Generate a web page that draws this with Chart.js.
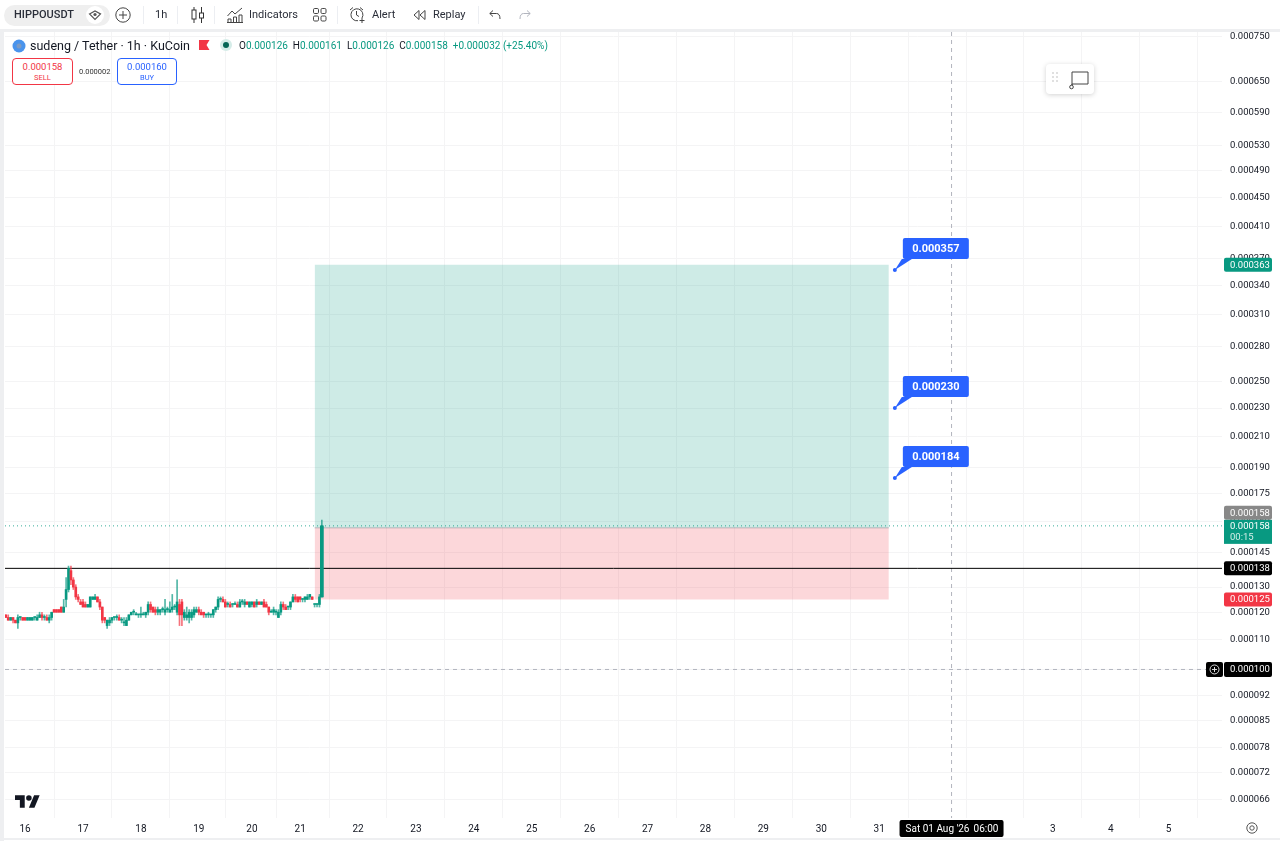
<!DOCTYPE html>
<html>
<head>
<meta charset="utf-8">
<title>HIPPOUSDT</title>
<script src="https://cdn.jsdelivr.net/npm/chart.js@4"></script>
<style>
html, body { margin: 0; padding: 0; background: #fff; width: 1280px; height: 841px; overflow: hidden; font-family: Roboto, sans-serif; color: #131722; }
#chart { position: absolute; left: 0; top: 0; }
.abs { position: absolute; white-space: nowrap; }
.tb { font-size: 11px; top: 8px; line-height: 14px; color: #2a2e39; }
.sep { position: absolute; top: 6px; width: 1px; height: 18px; background: #eceef2; }
svg { position: absolute; overflow: visible; }
#frameTop { position: absolute; left: 0; top: 29px; width: 1280px; height: 3px; background: #eeeff1; }
#frameLeft { position: absolute; left: 0; top: 29px; width: 4px; height: 812px; background: #eeeff1; }
#frameBottom { position: absolute; left: 0; top: 838px; width: 1280px; height: 2px; background: #eeeff1; }
.num { color: #089981; }
.box { position: absolute; top: 58px; width: 59px; height: 25px; border: 1px solid; border-radius: 4px; background: #fff; text-align: center; }
.box div:first-child { font-size: 9.5px; line-height: 12px; margin-top: 2px; }
.box div:last-child { font-size: 7.5px; line-height: 9px; }
</style>
</head>
<body>
<canvas id="chart" width="1280" height="841"></canvas>
<div id="frameTop"></div><div id="frameLeft"></div><div id="frameBottom"></div>

<div class="abs" style="left:4px;top:5px;width:106px;height:21px;background:#efefef;border-radius:11px"></div>
<div class="abs tb" style="left:14px;font-weight:500;font-size:11px">HIPPOUSDT</div>
<svg style="left:86px;top:6px" width="18" height="18" viewBox="0 0 18 18"><circle cx="9" cy="9" r="9" fill="#fff"/><path d="M3.5 8 L9 5 L14.5 8 L9 13.5 Z" fill="none" stroke="#555" stroke-width="1.2"/><circle cx="9" cy="8.5" r="1.6" fill="#555"/></svg>
<svg style="left:115px;top:7px" width="16" height="16" viewBox="0 0 16 16"><circle cx="8" cy="8" r="7.2" fill="none" stroke="#444" stroke-width="1"/><path d="M8 4v8M4 8h8" stroke="#444" stroke-width="1"/></svg>
<div class="sep" style="left:143px"></div>
<div class="abs tb" style="left:155px">1h</div>
<div class="sep" style="left:177px"></div>
<svg style="left:191px;top:7px" width="14" height="16" viewBox="0 0 14 16"><path d="M3 0v16M10.500 0v16" stroke="#333"/><rect x="1" y="3" width="4" height="9" fill="#fff" stroke="#333"/><rect x="8.500" y="6" width="4" height="5" fill="#fff" stroke="#333"/></svg>
<div class="sep" style="left:214px"></div>
<svg style="left:227px;top:7px" width="16" height="16" viewBox="0 0 16 16"><path d="M0.500 9 L5 4 L8 7 L15 1" fill="none" stroke="#444"/><path d="M1 16v-4h3v4M6.500 16v-6h3v6M12 16v-8h3v8M0 15.500h16" fill="none" stroke="#444"/></svg>
<div class="abs tb" style="left:249px">Indicators</div>
<svg style="left:313px;top:8px" width="14" height="14" viewBox="0 0 14 14"><rect x="0.500" y="0.500" width="5" height="5" rx="1.200" fill="none" stroke="#444"/><rect x="8" y="0.500" width="5" height="5" rx="1.200" fill="none" stroke="#444"/><rect x="0.500" y="8" width="5" height="5" rx="1.200" fill="none" stroke="#444"/><rect x="8" y="8" width="5" height="5" rx="1.200" fill="none" stroke="#444"/></svg>
<div class="sep" style="left:337px"></div>
<svg style="left:349px;top:7px" width="16" height="17" viewBox="0 0 16 17"><path d="M13 11 A6 6 0 1 0 9 13.700" fill="none" stroke="#444"/><path d="M7.500 4v4l2.500 1.500M1 3l3-2.500M14 3l-3-2.500M13 11v5M10.500 13.500h5" fill="none" stroke="#444"/></svg>
<div class="abs tb" style="left:372px">Alert</div>
<svg style="left:413px;top:10px" width="13" height="10" viewBox="0 0 13 10"><path d="M6 0.500 L1 5 L6 9.500 Z M12 0.500 L7 5 L12 9.500 Z" fill="none" stroke="#444"/></svg>
<div class="abs tb" style="left:433px">Replay</div>
<div class="sep" style="left:478px"></div>
<svg style="left:489px;top:10px" width="12" height="10" viewBox="0 0 12 10"><path d="M4 0.500 L0.800 3.500 L4 6.500 M0.800 3.500 H7.500 Q11 3.500 11 9" fill="none" stroke="#444"/></svg>
<svg style="left:519px;top:10px" width="12" height="10" viewBox="0 0 12 10"><path d="M8 0.500 L11.200 3.500 L8 6.500 M11.200 3.500 H4.500 Q1 3.500 1 9" fill="none" stroke="#b2b5be"/></svg>

<svg style="left:12px;top:39px" width="14" height="14" viewBox="0 0 14 14"><circle cx="7" cy="7" r="6.500" fill="#4a94ec"/><circle cx="7" cy="7" r="2.500" fill="#7d9bc4"/></svg>
<div class="abs" style="left:30px;top:38px;font-size:12.500px;line-height:15px">sudeng / Tether · 1h · KuCoin</div>
<svg style="left:199px;top:40px" width="11" height="10" viewBox="0 0 11 10"><path d="M0 0H10.500L7.500 5L10.500 10H0Z" fill="#f23645"/></svg>
<svg style="left:220px;top:39px" width="12" height="12" viewBox="0 0 12 12"><circle cx="6" cy="6" r="6" fill="#d5ecE8"/><circle cx="6" cy="6" r="3" fill="#056656"/></svg>
<div class="abs" style="left:239px;top:39px;font-size:10px;line-height:13px">O<span class="num">0.000126</span>&nbsp; H<span class="num">0.000161</span>&nbsp; L<span class="num">0.000126</span>&nbsp; C<span class="num">0.000158</span>&nbsp; <span class="num">+0.000032 (+25.40%)</span></div>
<div class="box" style="left:12px;border-color:#f23645;color:#f23645"><div>0.000158</div><div>SELL</div></div>
<div class="abs" style="left:79px;top:67px;font-size:7.500px;line-height:10px;color:#333">0.000002</div>
<div class="box" style="left:117px;width:58px;border-color:#2962ff;color:#2962ff"><div>0.000160</div><div>BUY</div></div>

<div class="abs" style="left:1046px;top:64px;width:48px;height:30px;background:#fff;border-radius:4px;box-shadow:0 1px 5px rgba(0,0,0,.18)"></div>
<svg style="left:1052px;top:70px" width="38" height="20" viewBox="0 0 38 20"><g fill="#d6d6d6"><circle cx="1" cy="3" r="1"/><circle cx="5" cy="3" r="1"/><circle cx="1" cy="7" r="1"/><circle cx="5" cy="7" r="1"/><circle cx="1" cy="11" r="1"/><circle cx="5" cy="11" r="1"/></g><path d="M20 2H36V14H20V17" fill="none" stroke="#444"/><path d="M20 2V15" stroke="#444"/><circle cx="19.500" cy="17" r="1.800" fill="#fff" stroke="#444"/></svg>

<svg style="left:15px;top:795px" width="25" height="13" viewBox="0 4 36 18"><path d="M14 22H7V11H0V4h14v18zM28 22h-8l7.500-18h8L28 22z" fill="#131722"/><circle cx="20" cy="8" r="4" fill="#131722"/></svg>
<svg style="left:1246px;top:822px" width="12" height="12" viewBox="0 0 12 12"><circle cx="6" cy="6" r="5.200" fill="none" stroke="#555"/><circle cx="6" cy="6" r="2.200" fill="none" stroke="#555"/></svg>

<script>
// candles, one entry per hour bar
const bars = [-8,-7,-6,-5,-4,-3,-2,-1,0,1,2,3,4,5,6,7,8,9,10,11,12,13,14,15,16,17,18,19,20,21,22,23,24,25,26,27,28,29,30,31,32,33,34,35,36,37,38,39,40,41,42,43,44,45,46,47,48,49,50,51,52,53,54,55,56,57,58,59,60,61,62,63,64,65,66,67,68,69,70,71,72,73,74,75,76,77,78,79,80,81,82,83,84,85,86,87,88,89,90,91,92,93,94,95,96,97,98,99,100,101,102,103,104,105,106,107,108,109,110,111,112,113,114,115,116,117,118,119,120,121,122,123];
const opens = [0.000119,0.000118,0.000117,0.000118,0.000117,0.000116,0.000118,0.000118,0.000118,0.000117,0.000117,0.000117,0.000118,0.000117,0.000118,0.000119,0.000118,0.000118,0.000117,0.000118,0.000121,0.000121,0.000121,0.000122,0.000120,0.000125,0.000129,0.000137,0.000133,0.000130,0.000126,0.000124,0.000124,0.000123,0.000122,0.000122,0.000125,0.000125,0.000126,0.000124,0.000122,0.000118,0.000115,0.000116,0.000117,0.000118,0.000118,0.000118,0.000117,0.000116,0.000115,0.000117,0.000119,0.000120,0.000119,0.000119,0.000119,0.000119,0.000119,0.000120,0.000123,0.000122,0.000121,0.000120,0.000120,0.000121,0.000120,0.000121,0.000120,0.000121,0.000122,0.000120,0.000123,0.000124,0.000118,0.000118,0.000118,0.000118,0.000119,0.000120,0.000121,0.000120,0.000120,0.000119,0.000119,0.000119,0.000119,0.000121,0.000122,0.000125,0.000125,0.000124,0.000123,0.000123,0.000123,0.000123,0.000123,0.000122,0.000124,0.000123,0.000124,0.000122,0.000123,0.000124,0.000123,0.000124,0.000123,0.000124,0.000123,0.000122,0.000120,0.000120,0.000120,0.000118,0.000120,0.000123,0.000122,0.000122,0.000122,0.000124,0.000126,0.000126,0.000126,0.000125,0.000125,0.000125,0.000126,0.000126,0.000123,0.000123,0.000123,0.000126];
const highs = [0.000119,0.000119,0.000118,0.000118,0.000117,0.000119,0.000118,0.000118,0.000118,0.000118,0.000118,0.000118,0.000118,0.000119,0.000120,0.000120,0.000119,0.000119,0.000119,0.000120,0.000121,0.000121,0.000121,0.000122,0.000125,0.000134,0.000139,0.000139,0.000134,0.000131,0.000127,0.000125,0.000125,0.000124,0.000123,0.000126,0.000126,0.000127,0.000126,0.000125,0.000122,0.000118,0.000117,0.000118,0.000118,0.000118,0.000119,0.000119,0.000118,0.000118,0.000118,0.000119,0.000120,0.000121,0.000120,0.000119,0.000122,0.000120,0.000120,0.000124,0.000124,0.000122,0.000122,0.000122,0.000121,0.000122,0.000125,0.000122,0.000124,0.000127,0.000123,0.000133,0.000125,0.000125,0.000121,0.000122,0.000121,0.000121,0.000122,0.000122,0.000122,0.000121,0.000120,0.000119,0.000120,0.000119,0.000121,0.000122,0.000126,0.000126,0.000126,0.000125,0.000124,0.000124,0.000123,0.000124,0.000124,0.000125,0.000125,0.000125,0.000124,0.000124,0.000124,0.000124,0.000125,0.000124,0.000124,0.000125,0.000124,0.000122,0.000121,0.000122,0.000121,0.000121,0.000124,0.000124,0.000123,0.000122,0.000124,0.000127,0.000127,0.000126,0.000126,0.000125,0.000126,0.000127,0.000127,0.000126,0.000123,0.000123,0.000127,0.000161];
const lows = [0.000118,0.000117,0.000117,0.000116,0.000116,0.000114,0.000117,0.000117,0.000117,0.000117,0.000117,0.000117,0.000117,0.000117,0.000118,0.000117,0.000117,0.000117,0.000116,0.000117,0.000120,0.000120,0.000120,0.000120,0.000120,0.000122,0.000128,0.000131,0.000129,0.000125,0.000124,0.000123,0.000122,0.000122,0.000122,0.000122,0.000125,0.000125,0.000124,0.000121,0.000116,0.000116,0.000114,0.000115,0.000116,0.000117,0.000117,0.000117,0.000116,0.000115,0.000115,0.000117,0.000119,0.000119,0.000119,0.000118,0.000118,0.000119,0.000118,0.000119,0.000120,0.000120,0.000119,0.000119,0.000119,0.000120,0.000119,0.000120,0.000120,0.000120,0.000121,0.000119,0.000115,0.000115,0.000117,0.000117,0.000116,0.000117,0.000118,0.000120,0.000119,0.000119,0.000118,0.000118,0.000118,0.000118,0.000118,0.000120,0.000121,0.000124,0.000124,0.000122,0.000122,0.000122,0.000122,0.000123,0.000122,0.000122,0.000123,0.000122,0.000123,0.000122,0.000122,0.000122,0.000122,0.000123,0.000123,0.000122,0.000122,0.000119,0.000120,0.000119,0.000119,0.000118,0.000119,0.000121,0.000121,0.000121,0.000121,0.000124,0.000124,0.000124,0.000124,0.000124,0.000124,0.000125,0.000125,0.000125,0.000122,0.000122,0.000122,0.000126];
const closes = [0.000118,0.000117,0.000118,0.000117,0.000116,0.000118,0.000118,0.000117,0.000117,0.000118,0.000118,0.000118,0.000118,0.000118,0.000119,0.000118,0.000118,0.000117,0.000118,0.000120,0.000120,0.000120,0.000120,0.000120,0.000122,0.000129,0.000138,0.000133,0.000130,0.000126,0.000125,0.000123,0.000122,0.000122,0.000123,0.000126,0.000126,0.000126,0.000124,0.000122,0.000117,0.000117,0.000117,0.000117,0.000118,0.000118,0.000118,0.000117,0.000117,0.000116,0.000117,0.000119,0.000120,0.000120,0.000119,0.000119,0.000119,0.000119,0.000120,0.000123,0.000121,0.000120,0.000120,0.000121,0.000121,0.000121,0.000121,0.000121,0.000121,0.000122,0.000122,0.000124,0.000119,0.000119,0.000120,0.000119,0.000120,0.000120,0.000121,0.000121,0.000120,0.000119,0.000119,0.000119,0.000119,0.000119,0.000121,0.000122,0.000125,0.000125,0.000124,0.000122,0.000123,0.000122,0.000123,0.000123,0.000122,0.000124,0.000124,0.000124,0.000123,0.000124,0.000124,0.000122,0.000124,0.000123,0.000124,0.000122,0.000122,0.000120,0.000120,0.000121,0.000120,0.000120,0.000123,0.000122,0.000121,0.000122,0.000124,0.000126,0.000125,0.000124,0.000125,0.000125,0.000126,0.000126,0.000127,0.000125,0.000123,0.000123,0.000126,0.000158];

// axes
const yTicks = [0.000750,0.000650,0.000590,0.000530,0.000490,0.000450,0.000410,0.000370,0.000340,0.000310,0.000280,0.000250,0.000230,0.000210,0.000190,0.000175,0.000160,0.000145,0.000130,0.000120,0.000110,0.000100,0.000092,0.000085,0.000078,0.000072,0.000066];
const dateTicks = [0,24,48,72,94,114,138,162,186,210,234,258,282,306,330,354,378,402,426,450,474];
const dateLabels = ['16','17','18','19','20','21','22','23','24','25','26','27','28','29','30','31','Aug','2','3','4','5'];

// position tool and price lines
const positionBars = [120,358];
const entryPrice = 0.000157;
const stopPrice = 0.000125;
const profitPrice = 0.000363;
const targetBar = 360.5;
const targetPrices = [0.000357,0.000230,0.000184];
const targetLabels = ['0.000357','0.000230','0.000184'];
const lastPrice = 0.000158;
const blackLinePrice = 0.000138;
const crossPrice = 0.000100;
const crossBar = 384;
const edgeBars = [-8.33,496.1];
const yRange = [0.0000623,0.000762];

const GREEN = '#089981', RED = '#f23645', BLUE = '#2962ff';

function hline(price, color, dash, from, to) {
    return {
        type: 'line', order: 3, borderColor: color, borderWidth: 1, borderDash: dash,
        pointRadius: 0, data: [{x: from, y: price}, {x: to, y: price}]
    };
}

function tag(ctx, x, y, w, h, color, text, textColor) {
    ctx.fillStyle = color;
    ctx.beginPath();
    ctx.roundRect(x, y - h / 2, w, h, 2);
    ctx.fill();
    ctx.fillStyle = textColor || '#fff';
    ctx.font = '9.5px Roboto';
    ctx.textAlign = 'left';
    ctx.textBaseline = 'middle';
    ctx.fillText(text, x + 6, y + 0.5);
}

const overlayPlugin = {
    id: 'overlay',
    afterDraw(chart) {
        const ctx = chart.ctx, xs = chart.scales.x, ys = chart.scales.y;
        ctx.save();
        // target callouts
        targetPrices.forEach((p, i) => {
            const x = xs.getPixelForValue(targetBar), y = ys.getPixelForValue(p);
            ctx.fillStyle = BLUE;
            ctx.beginPath();
            ctx.moveTo(x, y);
            ctx.lineTo(x + 7, y - 11);
            ctx.lineTo(x + 17, y - 11);
            ctx.closePath();
            ctx.fill();
            ctx.beginPath();
            ctx.roundRect(x + 8, y - 32, 66, 21, 2);
            ctx.fill();
            ctx.fillStyle = '#fff';
            ctx.font = 'bold 11px Roboto';
            ctx.textAlign = 'center';
            ctx.textBaseline = 'middle';
            ctx.fillText(targetLabels[i], x + 41, y - 21);
        });
        // price axis tags
        const ax = 1224, aw = 48;
        tag(ctx, ax, ys.getPixelForValue(profitPrice), aw, 14, GREEN, '0.000363');
        tag(ctx, ax, ys.getPixelForValue(stopPrice), aw, 14, RED, '0.000125');
        tag(ctx, ax, ys.getPixelForValue(blackLinePrice), aw, 14, '#000', '0.000138');
        const yc = ys.getPixelForValue(crossPrice);
        tag(ctx, ax, yc, aw, 15, '#000', '0.000100');
        ctx.fillStyle = '#000';
        ctx.beginPath();
        ctx.roundRect(1206, yc - 7.5, 17, 15, 2);
        ctx.fill();
        ctx.strokeStyle = '#ddd';
        ctx.beginPath();
        ctx.arc(1214.5, yc, 4.5, 0, Math.PI * 2);
        ctx.moveTo(1212, yc); ctx.lineTo(1217, yc);
        ctx.moveTo(1214.5, yc - 2.5); ctx.lineTo(1214.5, yc + 2.5);
        ctx.stroke();
        const yl = ys.getPixelForValue(lastPrice);
        tag(ctx, ax, yl - 13, aw, 14, '#888888', '0.000158');
        ctx.fillStyle = GREEN;
        ctx.fillRect(ax, yl - 6, aw, 24);
        ctx.fillStyle = '#fff';
        ctx.font = '9.5px Roboto';
        ctx.fillText('0.000158', ax + 6, yl + 0.5);
        ctx.fillStyle = '#d5efe9';
        ctx.fillText('00:15', ax + 6, yl + 11.5);
        // crosshair date tag
        const xc = xs.getPixelForValue(crossBar);
        ctx.fillStyle = '#000';
        ctx.beginPath();
        ctx.roundRect(xc - 52, 820, 104, 17, 2);
        ctx.fill();
        ctx.fillStyle = '#fff';
        ctx.font = '10px Roboto';
        ctx.textAlign = 'left';
        ctx.fillText("Sat 01 Aug '26", xc - 46, 829);
        ctx.fillText('06:00', xc + 22, 829);
        ctx.restore();
    }
};

const wickData = bars.map((b, i) => ({x: b, y: [lows[i], highs[i]]}));
const bodyData = bars.map((b, i) => ({x: b, y: [Math.min(opens[i], closes[i]), Math.max(opens[i], closes[i])]}));
const barColors = bars.map((b, i) => closes[i] >= opens[i] ? GREEN : RED);
const wickColors = bars.map((b, i) => closes[i] >= opens[i] ? 'rgba(8,153,129,0.7)' : 'rgba(242,54,69,0.7)');

new Chart(document.getElementById('chart'), {
    type: 'bar',
    data: {
        datasets: [
            {type: 'bar', order: 1, grouped: false, barThickness: 1, backgroundColor: wickColors, data: wickData},
            {type: 'bar', order: 1, grouped: false, barThickness: 2, minBarLength: 1, backgroundColor: barColors, data: bodyData},
            // the live candle stands out wider in the picture
            {type: 'bar', order: 1, grouped: false, barThickness: 3, backgroundColor: GREEN, data: bodyData.slice(-1)},
            {
                type: 'line', order: 6, borderWidth: 0, pointRadius: 0, backgroundColor: 'rgba(8,153,129,0.2)',
                fill: {value: entryPrice},
                data: positionBars.map(b => ({x: b, y: profitPrice}))
            },
            {
                type: 'line', order: 6, borderWidth: 0, pointRadius: 0, backgroundColor: 'rgba(242,54,69,0.2)',
                fill: {value: entryPrice},
                data: positionBars.map(b => ({x: b, y: stopPrice}))
            },
            hline(entryPrice, 'rgba(120,123,134,0.45)', [], positionBars[0], positionBars[1]),
            hline(lastPrice, 'rgba(8,153,129,0.8)', [1, 3], edgeBars[0], edgeBars[1]),
            hline(blackLinePrice, '#000', [], edgeBars[0], edgeBars[1]),
            hline(crossPrice, '#b2b5be', [4, 4], edgeBars[0], edgeBars[1]),
            {
                type: 'line', order: 3, borderColor: '#b2b5be', borderWidth: 1, borderDash: [4, 4], pointRadius: 0,
                data: [{x: crossBar, y: yRange[1]}, {x: crossBar, y: yRange[0]}]
            },
            {
                type: 'scatter', order: 2, pointRadius: 2, backgroundColor: BLUE, borderWidth: 0,
                data: targetPrices.map(p => ({x: targetBar, y: p}))
            }
        ]
    },
    options: {
        responsive: false,
        animation: false,
        layout: {padding: {top: 32, left: 5, right: 0, bottom: 0}},
        plugins: {legend: {display: false}, tooltip: {enabled: false}},
        scales: {
            x: {
                type: 'linear', offset: false, min: edgeBars[0], max: edgeBars[1],
                afterBuildTicks: s => { s.ticks = dateTicks.map(v => ({value: v})); },
                afterFit: s => { s.height = 23; },
                grid: {color: '#f4f4f5', drawTicks: false},
                border: {display: false},
                ticks: {
                    autoSkip: false, maxRotation: 0, padding: 5, color: '#131722',
                    font: {family: 'Roboto', size: 10},
                    callback: v => dateLabels[dateTicks.indexOf(v)]
                }
            },
            y: {
                type: 'logarithmic', position: 'right', min: yRange[0], max: yRange[1],
                afterBuildTicks: s => { s.ticks = yTicks.map(v => ({value: v})); },
                afterFit: s => { s.width = 58; },
                grid: {color: '#f4f4f5', drawTicks: false},
                border: {display: false},
                ticks: {
                    autoSkip: false, padding: 8, color: '#131722',
                    font: {family: 'Roboto', size: 9.5},
                    callback: v => v.toFixed(6)
                }
            }
        }
    },
    plugins: [overlayPlugin]
});
</script>
</body>
</html>
